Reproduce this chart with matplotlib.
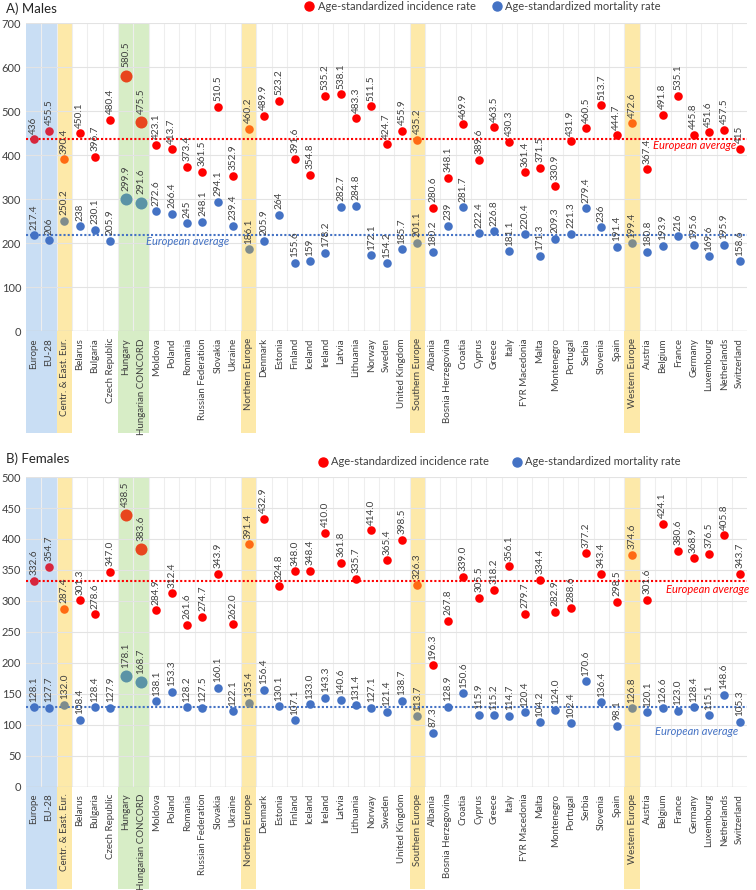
import numpy as np
import matplotlib.pyplot as plt
from matplotlib.transforms import blended_transform_factory
from matplotlib.patches import Rectangle

plt.rcParams['font.family'] = ['Lato', 'DejaVu Sans']

countries = ['Europe', 'EU-28', 'Centr. & East. Eur.', 'Belarus', 'Bulgaria', 'Czech Republic',
             'Hungary', 'Hungarian CONCORD', 'Moldova', 'Poland', 'Romania', 'Russian Federation',
             'Slovakia', 'Ukraine', 'Northern Europe', 'Denmark', 'Estonia', 'Finland', 'Iceland',
             'Ireland', 'Latvia', 'Lithuania', 'Norway', 'Sweden', 'United Kingdom',
             'Southern Europe', 'Albania', 'Bosnia Herzegovina', 'Croatia', 'Cyprus', 'Greece',
             'Italy', 'FYR Macedonia', 'Malta', 'Montenegro', 'Portugal', 'Serbia', 'Slovenia',
             'Spain', 'Western Europe', 'Austria', 'Belgium', 'France', 'Germany', 'Luxembourg',
             'Netherlands', 'Switzerland']

male_inc = [436, 455.5, 390.4, 450.1, 396.7, 480.4, 580.5, 475.5, 423.1, 413.7, 373.4, 361.5,
            510.5, 352.9, 460.2, 489.9, 523.2, 391.6, 354.8, 535.2, 538.1, 483.3, 511.5, 424.7,
            455.9, 435.2, 280.6, 348.1, 469.9, 389.6, 463.5, 430.3, 361.4, 371.5, 330.9, 431.9,
            460.5, 513.7, 444.7, 472.6, 367.4, 491.8, 535.1, 445.8, 451.6, 457.5, 415]
male_mort = [217.4, 206, 250.2, 238, 230.1, 205.9, 299.9, 291.6, 272.6, 266.4, 245, 248.1,
             294.1, 239.4, 186.1, 205.9, 264, 155.6, 159, 178.2, 282.7, 284.8, 172.1, 154.2,
             185.7, 201.1, 180.2, 239, 281.7, 222.4, 226.8, 181.1, 220.4, 171.3, 209.3, 221.3,
             279.4, 236, 191.4, 199.4, 180.8, 193.9, 216, 195.6, 169.6, 195.9, 158.6]
female_inc = [332.6, 354.7, 287.4, 301.3, 278.6, 347.0, 438.5, 383.6, 284.9, 312.4, 261.6, 274.7,
              343.9, 262.0, 391.4, 432.9, 324.8, 348.0, 348.4, 410.0, 361.8, 335.7, 414.0, 365.4,
              398.5, 326.3, 196.3, 267.8, 339.0, 305.5, 318.2, 356.1, 279.7, 334.4, 282.9, 288.6,
              377.2, 343.4, 298.5, 374.6, 301.6, 424.1, 380.6, 368.9, 376.5, 405.8, 343.7]
female_mort = [128.1, 127.7, 132.0, 108.4, 128.4, 127.9, 178.1, 168.7, 138.1, 153.3, 128.2, 127.5,
               160.1, 122.1, 135.4, 156.4, 130.1, 107.1, 133.0, 143.3, 140.6, 131.4, 127.1, 121.4,
               138.7, 113.7, 87.3, 128.9, 150.6, 115.9, 115.2, 114.7, 120.4, 104.2, 124.0, 102.4,
               170.6, 136.4, 98.1, 126.8, 120.1, 126.6, 123.0, 128.4, 115.1, 148.6, 105.3]

europe_idx = [0, 1]
region_idx = [2, 14, 25, 39]
hungary_idx = [6, 7]

RED = '#FF0000'
BLUE = '#4472C4'


def point_style(i, kind):
    if kind == 'inc':
        if i in europe_idx:
            return '#D7263D', 38
        if i in region_idx:
            return '#FF6A13', 38
        if i in hungary_idx:
            return '#E8461E', 75
        return RED, 38
    else:
        if i in europe_idx:
            return BLUE, 38
        if i in region_idx:
            return '#7F8C8D', 38
        if i in hungary_idx:
            return '#5B93A6', 75
        return BLUE, 38


def draw_panel(ax, inc, mort, ymax, ystep, fmt, title, title_y, leg_x, leg_y, avg_pos):
    x = np.arange(len(countries))
    trans = blended_transform_factory(ax.transData, ax.transAxes)
    # coloured bands behind the columns
    for idx, col in [(europe_idx, '#C9DEF4'), (region_idx, '#FDE9A9'), (hungary_idx, '#D7EDC6')]:
        for i in idx:
            ax.add_patch(Rectangle((i - 0.5, -0.33), 1, 1.33, transform=trans,
                                   facecolor=col, edgecolor='none', clip_on=False, zorder=0))
    for xv in x[:-1] + 0.5:
        ax.axvline(xv, color='#EEEEEE', lw=0.8, zorder=0.5)
    for yv in np.arange(ystep, ymax + 1, ystep):
        ax.axhline(yv, color='#E3E3E3', lw=0.8, zorder=0.5)
    ax.axhline(0, color='#D0D0D0', lw=1, zorder=0.6)

    ax.axhline(inc[0], color=RED, lw=1.5, ls=(0, (1, 1)), zorder=1)
    ax.axhline(mort[0], color=BLUE, lw=1.5, ls=(0, (1, 1)), zorder=1)

    for series, kind in [(inc, 'inc'), (mort, 'mort')]:
        for i, v in enumerate(series):
            c, s = point_style(i, kind)
            ax.scatter(i, v, s=s, color=c, zorder=3, linewidths=0)
            ax.annotate(fmt % v, (i, v), xytext=(0, 6 if i in hungary_idx else 4),
                        textcoords='offset points', rotation=90, ha='center', va='bottom',
                        fontsize=7.2, color='#404040', zorder=4)

    (rx, ry), (bx, by) = avg_pos
    ax.text(rx, ry, 'European average', color=RED, style='italic', fontsize=8,
            ha='center', va='center', zorder=4)
    ax.text(bx, by, 'European average', color=BLUE, style='italic', fontsize=8,
            ha='center', va='center', zorder=4)

    ax.set_xlim(-0.5, len(countries) - 0.5)
    ax.set_ylim(0, ymax)
    ax.set_yticks(np.arange(0, ymax + 1, ystep))
    ax.set_xticks(x)
    ax.set_xticklabels(countries, rotation=90, va='top')
    for i, lab in enumerate(ax.get_xticklabels()):
        if i in europe_idx:
            lab.set_color('#1F4E79')
        elif i in region_idx:
            lab.set_color('#7F6000')
        elif i in hungary_idx:
            lab.set_color('#3A5A2A')
        else:
            lab.set_color('#404040')
    ax.tick_params(axis='both', length=0, labelsize=8, colors='#404040')
    ax.tick_params(axis='x', labelsize=7, pad=5)
    for sp in ax.spines.values():
        sp.set_visible(False)

    fig = ax.figure
    fig.text(0.008, title_y, title, fontsize=9.5, color='#262626', va='center')
    for (lx, lc, lt) in [(leg_x[0], RED, 'Age-standardized incidence rate'),
                         (leg_x[1], BLUE, 'Age-standardized mortality rate')]:
        fig.add_artist(plt.Line2D([lx], [leg_y], marker='o', color=lc, markersize=6.5,
                                  transform=fig.transFigure))
        fig.text(lx + 0.011, leg_y, lt, fontsize=8, color='#404040', va='center')


fig = plt.figure(figsize=(7.56, 8.9), dpi=100)
ax1 = fig.add_axes([0.0344, 0.628, 0.954, 0.346])
ax2 = fig.add_axes([0.0344, 0.116, 0.954, 0.348])

draw_panel(ax1, male_inc, male_mort, 700, 100, '%g', 'A) Males', 0.990, (0.409, 0.657),
           0.993, ((43.1, 422), (10.0, 204)))
draw_panel(ax2, female_inc, female_mort, 500, 50, '%.1f', 'B) Females', 0.485, (0.427, 0.684),
           0.481, ((43.9, 318), (43.2, 90)))

fig.savefig('out.png', dpi=100)
